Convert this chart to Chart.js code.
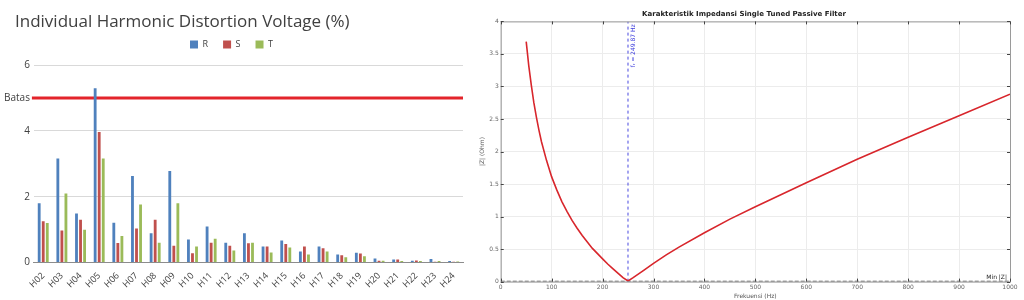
<!DOCTYPE html>
<html>
<head>
<meta charset="utf-8">
<script src="https://cdn.jsdelivr.net/npm/chart.js@4.4.1/dist/chart.umd.min.js"></script>
<style>
  html, body { margin: 0; padding: 0; background: #fff; }
  #wrap { position: relative; width: 1024px; height: 300px; overflow: hidden; }
  .box { position: absolute; top: 0; height: 300px; }
  #left { left: 0; width: 475px; }
  #right { left: 476px; width: 548px; }
</style>
</head>
<body>
<div id="wrap">
  <div class="box" id="left"><canvas id="ihd"></canvas></div>
  <div class="box" id="right"><canvas id="imp"></canvas></div>
</div>
<script>
// --- left chart: individual harmonic distortion per phase (%)
const harmonics = ['H02', 'H03', 'H04', 'H05', 'H06', 'H07', 'H08', 'H09', 'H10', 'H11', 'H12', 'H13',
    'H14', 'H15', 'H16', 'H17', 'H18', 'H19', 'H20', 'H21', 'H22', 'H23', 'H24'];
const phaseR = [1.80, 3.16, 1.49, 5.30, 1.21, 2.63, 0.89, 2.78, 0.70, 1.09, 0.60, 0.89,
    0.48, 0.67, 0.33, 0.48, 0.24, 0.29, 0.12, 0.09, 0.05, 0.10, 0.04];
const phaseS = [1.25, 0.97, 1.30, 3.97, 0.59, 1.03, 1.30, 0.51, 0.28, 0.60, 0.51, 0.58,
    0.48, 0.56, 0.48, 0.43, 0.22, 0.27, 0.05, 0.09, 0.06, 0.02, 0.02];
const phaseT = [1.20, 2.10, 0.99, 3.16, 0.80, 1.76, 0.60, 1.80, 0.48, 0.72, 0.36, 0.60,
    0.30, 0.45, 0.24, 0.33, 0.16, 0.19, 0.05, 0.04, 0.04, 0.04, 0.03];
const ihdTicks = [0, 2, 4, 5, 6];
const BATAS = 5;
const ihdTitle = 'Individual Harmonic Distortion Voltage (%)';

// --- right chart: impedance of single tuned filter
const freqHz = [50, 55, 60, 65, 70, 75, 80, 90, 100, 110, 120, 130, 140, 150, 160, 170, 180, 190,
    200, 210, 220, 230, 240, 250, 260, 280, 300, 325, 350, 400, 450, 500, 600, 700, 800, 900, 1000];
const impedanceOhm = [3.69, 3.32, 3.02, 2.75, 2.53, 2.33, 2.15, 1.86, 1.61, 1.41, 1.23, 1.08, 0.94,
    0.82, 0.71, 0.61, 0.51, 0.43, 0.35, 0.27, 0.20, 0.13, 0.06, 0.01, 0.06, 0.17, 0.28, 0.41, 0.53,
    0.75, 0.96, 1.15, 1.52, 1.88, 2.22, 2.55, 2.88];
const resonanceHz = 249.87;
const minZ = 0;

const COLORS = {
    r: '#4f81bd',
    s: '#c0504d',
    t: '#9bbb59',
    batas: '#e3242b',
    text: '#404040'
};

// red "Batas" limit line across the plot
const batasLine = {
    id: 'batasLine',
    beforeDatasetsDraw(chart) {
        const { ctx, chartArea, scales: { y } } = chart;
        const py = y.getPixelForValue(BATAS);
        ctx.save();
        ctx.strokeStyle = COLORS.batas;
        ctx.lineWidth = 3;
        ctx.beginPath();
        ctx.moveTo(chartArea.left - 2, py);
        ctx.lineTo(chartArea.right, py);
        ctx.stroke();
        ctx.restore();
    }
};

// title sits further left than the plot, so it is drawn by hand
const sideTitle = {
    id: 'sideTitle',
    afterDraw(chart) {
        const ctx = chart.ctx;
        ctx.save();
        ctx.fillStyle = COLORS.text;
        ctx.font = '17px "Open Sans"';
        ctx.textBaseline = 'middle';
        ctx.fillText(ihdTitle, 15, 22);
        ctx.restore();
    }
};

new Chart(document.getElementById('ihd'), {
    type: 'bar',
    data: {
        labels: harmonics,
        datasets: [
            { label: 'R', data: phaseR, backgroundColor: COLORS.r },
            { label: 'S', data: phaseS, backgroundColor: COLORS.s },
            { label: 'T', data: phaseT, backgroundColor: COLORS.t }
        ]
    },
    options: {
        responsive: true,
        maintainAspectRatio: false,
        animation: false,
        categoryPercentage: 0.65,
        barPercentage: 0.7,
        layout: { padding: { top: 25, left: 0, right: 12, bottom: 10 } },
        plugins: {
            legend: {
                labels: {
                    boxWidth: 8,
                    boxHeight: 8,
                    padding: 15,
                    color: COLORS.text,
                    font: { family: 'Open Sans', size: 9 }
                }
            },
            tooltip: { enabled: false }
        },
        scales: {
            y: {
                min: 0,
                max: 6.19, // a little headroom above the 6 gridline, like the original
                afterBuildTicks(axis) {
                    axis.ticks = ihdTicks.map(v => ({ value: v }));
                },
                ticks: {
                    color: COLORS.text,
                    padding: 4,
                    font: { family: 'Open Sans', size: 10 },
                    callback: v => (v === BATAS ? 'Batas' : v)
                },
                grid: {
                    color: ctx => (ctx.tick && (ctx.tick.value === BATAS || ctx.tick.value === 0) ? 'rgba(0,0,0,0)' : '#d9d9d9'),
                    drawTicks: false
                },
                border: { display: false }
            },
            x: {
                grid: { display: false },
                border: { color: '#8c8c8c' },
                ticks: {
                    color: COLORS.text,
                    autoSkip: false,
                    minRotation: 45,
                    maxRotation: 45,
                    padding: 0,
                    font: { family: 'Open Sans', size: 9 }
                }
            }
        }
    },
    plugins: [batasLine, sideTitle]
});

// MATLAB-like frame, inner tick marks and text labels for the right plot
const matlabFrame = {
    id: 'matlabFrame',
    afterDatasetsDraw(chart) {
        const { ctx, chartArea: a, scales: { x, y } } = chart;
        ctx.save();
        ctx.strokeStyle = '#9a9a9a';
        ctx.lineWidth = 1;
        ctx.strokeRect(a.left + 0.5, a.top + 0.5, a.right - a.left, a.bottom - a.top);
        ctx.strokeStyle = '#444';
        ctx.beginPath();
        x.ticks.forEach(t => {
            const px = Math.round(x.getPixelForValue(t.value)) + 0.5;
            ctx.moveTo(px, a.top); ctx.lineTo(px, a.top + 3);
            ctx.moveTo(px, a.bottom); ctx.lineTo(px, a.bottom - 3);
        });
        y.ticks.forEach(t => {
            const py = Math.round(y.getPixelForValue(t.value)) + 0.5;
            ctx.moveTo(a.left, py); ctx.lineTo(a.left + 3, py);
            ctx.moveTo(a.right, py); ctx.lineTo(a.right - 3, py);
        });
        ctx.stroke();

        // resonance label, reading upwards along the dashed line
        ctx.fillStyle = '#3b3bdc';
        ctx.font = '6px "DejaVu Sans"';
        ctx.translate(x.getPixelForValue(resonanceHz) + 2, a.top + 46);
        ctx.rotate(-Math.PI / 2);
        ctx.textBaseline = 'top';
        ctx.fillText('f\u1d63 = ' + resonanceHz + ' Hz', 0, 0);
        ctx.restore();

        ctx.save();
        ctx.fillStyle = '#222';
        ctx.font = '6px "DejaVu Sans"';
        ctx.textAlign = 'right';
        ctx.textBaseline = 'bottom';
        ctx.fillText('Min |Z|', a.right - 3, y.getPixelForValue(minZ) - 1);
        ctx.restore();
    }
};

const tinyFont = { family: 'DejaVu Sans', size: 6 };

new Chart(document.getElementById('imp'), {
    type: 'line',
    data: {
        datasets: [
            {
                label: '|Z|',
                data: freqHz.map((f, i) => ({ x: f, y: impedanceOhm[i] })),
                borderColor: '#d8262c',
                borderWidth: 1.6,
                pointRadius: 0,
                tension: 0
            },
            {
                label: 'fr',
                data: [{ x: resonanceHz, y: 0 }, { x: resonanceHz, y: 4 }],
                borderColor: '#4a4ae0',
                borderWidth: 1,
                borderDash: [3, 3],
                pointRadius: 0
            },
            {
                label: 'Min |Z|',
                data: [{ x: 0, y: minZ }, { x: 1000, y: minZ }],
                borderColor: '#4d4d4d',
                borderWidth: 1.6,
                borderDash: [4, 2],
                pointRadius: 0
            }
        ]
    },
    options: {
        responsive: true,
        maintainAspectRatio: false,
        animation: false,
        layout: { padding: { left: 2, right: 14, bottom: 0 } },
        plugins: {
            legend: { display: false },
            tooltip: { enabled: false },
            title: {
                display: true,
                text: 'Karakteristik Impedansi Single Tuned Passive Filter',
                color: '#222',
                font: { family: 'DejaVu Sans', size: 7, weight: 'bold' },
                padding: { top: 10, bottom: 3 }
            }
        },
        scales: {
            x: {
                type: 'linear',
                min: 0,
                max: 1000,
                ticks: { stepSize: 100, color: '#666', font: tinyFont, padding: 2, maxRotation: 0, callback: v => v },
                grid: { color: '#ececec', drawTicks: false },
                border: { display: false },
                title: { display: true, text: 'Frekuensi (Hz)', color: '#555', font: tinyFont, padding: 0 }
            },
            y: {
                min: 0,
                max: 4,
                ticks: { stepSize: 0.5, color: '#666', font: tinyFont, padding: 2, callback: v => v },
                grid: { color: '#ececec', drawTicks: false },
                border: { display: false },
                title: { display: true, text: '|Z| (Ohm)', color: '#555', font: tinyFont, padding: 1 }
            }
        }
    },
    plugins: [matlabFrame]
});
</script>
</body>
</html>
